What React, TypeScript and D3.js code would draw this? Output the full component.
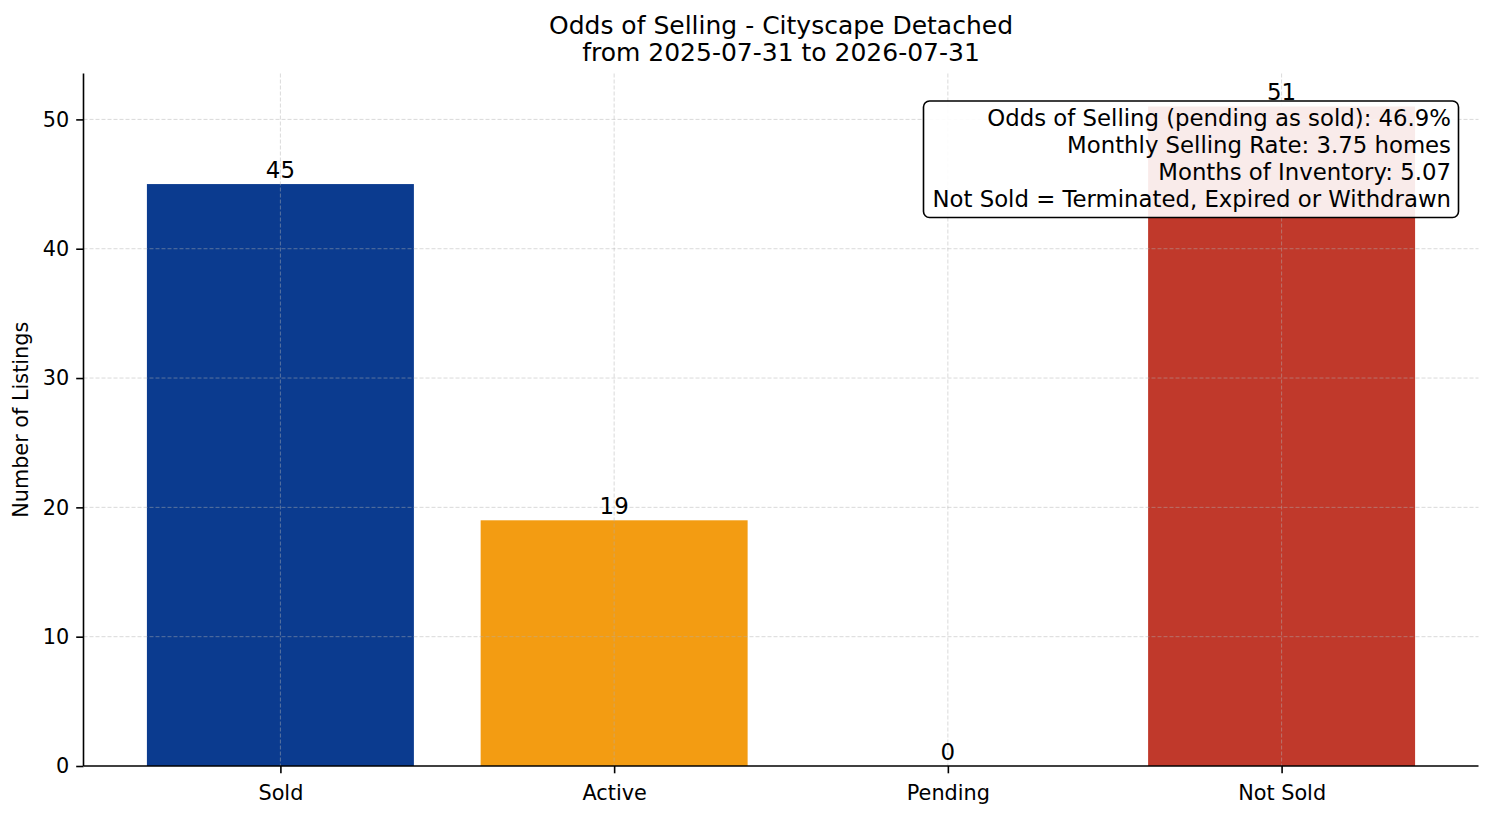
import React, {useEffect, useRef} from "react"
import * as d3 from "d3"

const categories = ["Sold", "Active", "Pending", "Not Sold"]
const counts = [45, 19, 0, 51]
const barColors = ["#0b3b8f", "#f39c12", "#27ae60", "#c0392b"]
const yTicks = [0, 10, 20, 30, 40, 50]
const titleLines = ["Odds of Selling - Cityscape Detached", "from 2025-07-31 to 2026-07-31"]
const infoLines = [
    "Odds of Selling (pending as sold): 46.9%",
    "Monthly Selling Rate: 3.75 homes",
    "Months of Inventory: 5.07",
    "Not Sold = Terminated, Expired or Withdrawn",
]

const width = 1494
const height = 816
const margin = {top: 73.5, right: 15.5, bottom: 50, left: 83.5}
const FONT = "'DejaVu Sans', sans-serif"

const App = () => {
    const ref = useRef<SVGSVGElement>(null)

    useEffect(() => {
        const svg = d3.select(ref.current)
        svg.selectAll("*").remove()

        const x = d3.scaleLinear()
            .domain([-0.59, categories.length - 1 + 0.59])
            .range([margin.left, width - margin.right])
        const y = d3.scaleLinear()
            .domain([0, d3.max(counts)! * 1.05])
            .range([height - margin.bottom, margin.top])
        const barW = x(0.8) - x(0)

        // bars
        svg.append("g").selectAll("rect")
            .data(counts)
            .join("rect")
            .attr("x", (_d, i) => x(i) - barW / 2)
            .attr("y", d => y(d))
            .attr("width", barW)
            .attr("height", d => y(0) - y(d))
            .attr("fill", (_d, i) => barColors[i])

        // grid on top of bars
        const grid = svg.append("g")
            .attr("stroke", "#b0b0b0")
            .attr("stroke-opacity", 0.6)
            .attr("stroke-width", 0.8)
            .attr("stroke-dasharray", "4,2")
        grid.selectAll("line.h")
            .data(yTicks.slice(1))
            .join("line")
            .attr("x1", margin.left).attr("x2", width - margin.right)
            .attr("y1", d => y(d)).attr("y2", d => y(d))
        grid.selectAll("line.v")
            .data(categories)
            .join("line")
            .attr("x1", (_d, i) => x(i)).attr("x2", (_d, i) => x(i))
            .attr("y1", margin.top).attr("y2", height - margin.bottom)

        // value labels
        svg.append("g").selectAll("text")
            .data(counts)
            .join("text")
            .attr("x", (_d, i) => x(i))
            .attr("y", d => y(d) - 6)
            .attr("text-anchor", "middle")
            .attr("font-family", FONT)
            .attr("font-size", 22.9)
            .attr("fill", "#000")
            .text(d => d)

        // axes
        const yAxis = d3.axisLeft(y).tickValues(yTicks).tickSize(7.3).tickPadding(7)
        const gy = svg.append("g")
            .attr("transform", `translate(${margin.left},0)`)
            .call(yAxis)
        const xAxis = d3.axisBottom(x)
            .tickValues(categories.map((_c, i) => i))
            .tickFormat((_d, i) => categories[i])
            .tickSize(7.3).tickPadding(7)
        const gx = svg.append("g")
            .attr("transform", `translate(0,${height - margin.bottom})`)
            .call(xAxis)
        for (const g of [gx, gy]) {
            g.select(".domain").attr("stroke", "#000").attr("stroke-width", 1.6)
                .attr("d", g === gx
                    ? `M${margin.left},0H${width - margin.right}`
                    : `M0,${height - margin.bottom}V${margin.top}`)
            g.selectAll(".tick line").attr("stroke", "#000").attr("stroke-width", 1.6)
            g.selectAll(".tick text")
                .attr("font-family", FONT)
                .attr("font-size", 20.8)
                .attr("fill", "#000")
        }
        gx.selectAll(".tick text").attr("dy", "0.95em")

        // y label
        svg.append("text")
            .attr("transform", `translate(28,${(margin.top + height - margin.bottom) / 2}) rotate(-90)`)
            .attr("text-anchor", "middle")
            .attr("font-family", FONT)
            .attr("font-size", 20.8)
            .text("Number of Listings")

        // title
        svg.append("text")
            .attr("text-anchor", "middle")
            .attr("font-family", FONT)
            .attr("font-size", 25)
            .selectAll("tspan")
            .data(titleLines)
            .join("tspan")
            .attr("x", (margin.left + width - margin.right) / 2)
            .attr("y", (_d, i) => 34 + i * 27)
            .text(d => d)

        // info box
        const boxRight = 1458.5, boxTop = 101, boxBottom = 217.5, boxLeft = 923.5
        svg.append("rect")
            .attr("x", boxLeft).attr("y", boxTop)
            .attr("width", boxRight - boxLeft).attr("height", boxBottom - boxTop)
            .attr("rx", 6).attr("ry", 6)
            .attr("fill", "#fff").attr("fill-opacity", 0.9)
            .attr("stroke", "#000").attr("stroke-width", 1.6)
        svg.append("text")
            .attr("text-anchor", "end")
            .attr("font-family", FONT)
            .attr("font-size", 22.8)
            .selectAll("tspan")
            .data(infoLines)
            .join("tspan")
            .attr("x", 1451)
            .attr("y", (_d, i) => 125.8 + i * 27)
            .text(d => d)
    }, [])

    return (
        <svg
            ref={ref}
            width={width}
            height={height}
            style={{position: "absolute", left: 0, top: 0, background: "#fff"}}
        />
    )
}

export default App
